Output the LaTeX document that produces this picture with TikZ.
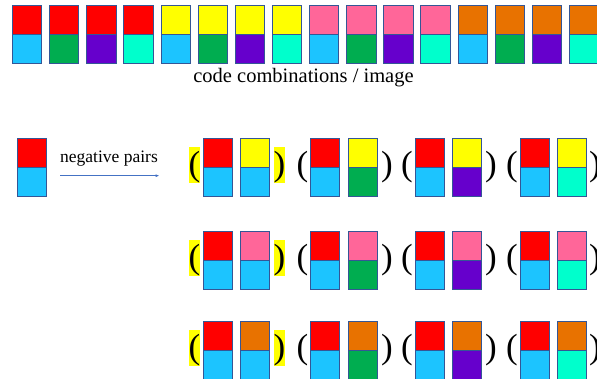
\documentclass[tikz,border=0pt]{standalone}
\usepackage{fontspec}
\setmainfont{Liberation Serif}
\usetikzlibrary{arrows, arrows.meta}

\definecolor{cred}{RGB}{255,0,0}
\definecolor{ccyan}{RGB}{28,196,255}
\definecolor{cgreen}{RGB}{0,173,80}
\definecolor{cpurple}{RGB}{102,0,204}
\definecolor{caqua}{RGB}{0,255,204}
\definecolor{cyellow}{RGB}{255,255,0}
\definecolor{cpink}{RGB}{255,102,153}
\definecolor{corange}{RGB}{232,114,0}
\definecolor{cedge}{RGB}{52,86,150}
\definecolor{carrow}{RGB}{68,114,196}

% one code block: x, top y, top colour, bottom colour
\newcommand{\cblock}[4]{%
  \fill[#3] (#1,#2) rectangle ++(29.3,-29);
  \fill[#4] (#1,#2-29) rectangle ++(29.3,-29);
  \draw[blockedge] (#1,#2) rectangle ++(29.3,-58);
  \draw[blockedge] (#1,#2-29) -- ++(29.3,0);}

\begin{document}
\begin{tikzpicture}[x=1pt,y=1pt,
  blockedge/.style={cedge, line width=0.8pt},
  paren/.style={font=\fontsize{35}{35}\selectfont, inner sep=0pt, anchor=base, text height=29pt, text depth=7pt},
  hl/.style={fill=cyellow}]
\useasboundingbox (0,0) rectangle (597,379);
%\draw[step=10,gray,very thin] (0,0) grid (597,379); %background grid

%all code combinations
\cblock{12.3}{373.3}{cred}{ccyan}
\cblock{49.4}{373.3}{cred}{cgreen}
\cblock{86.6}{373.3}{cred}{cpurple}
\cblock{123.7}{373.3}{cred}{caqua}
\cblock{160.9}{373.3}{cyellow}{ccyan}
\cblock{198.0}{373.3}{cyellow}{cgreen}
\cblock{235.1}{373.3}{cyellow}{cpurple}
\cblock{272.3}{373.3}{cyellow}{caqua}
\cblock{309.4}{373.3}{cpink}{ccyan}
\cblock{346.6}{373.3}{cpink}{cgreen}
\cblock{383.7}{373.3}{cpink}{cpurple}
\cblock{420.8}{373.3}{cpink}{caqua}
\cblock{458.0}{373.3}{corange}{ccyan}
\cblock{495.1}{373.3}{corange}{cgreen}
\cblock{532.3}{373.3}{corange}{cpurple}
\cblock{569.4}{373.3}{corange}{caqua}
\node[anchor=base, font=\fontsize{20.5}{24}\selectfont] (allcodes) at (303.5,296.3) {code combinations / image};

%anchor code and arrow
\cblock{17.3}{240.7}{cred}{ccyan}
\node[anchor=base, font=\fontsize{17.5}{21}\selectfont] (negpairs) at (109,216.3) {negative pairs};
\coordinate (arrowstart) at (60,203.3);
\coordinate (arrowend) at (159.5,203.3);
\draw[carrow, line width=0.8pt, -{Latex[length=4pt,width=3pt]}] (arrowstart) -- (arrowend);

%row 1 (yellow)
\node[paren,hl] (ra1) at (194.5,203) {(}; \node[paren,hl] (rb1) at (279.5,203) {)};
\cblock{203}{241}{cred}{ccyan}   \cblock{240.5}{241}{cyellow}{ccyan}
\node[paren] (ra2) at (302.5,203) {(}; \node[paren] (rb2) at (387,203) {)};
\cblock{310.5}{241}{cred}{ccyan} \cblock{348}{241}{cyellow}{cgreen}
\node[paren] (ra3) at (407,203) {(}; \node[paren] (rb3) at (491,203) {)};
\cblock{415}{241}{cred}{ccyan}   \cblock{452.5}{241}{cyellow}{cpurple}
\node[paren] (ra4) at (512,203) {(}; \node[paren] (rb4) at (595,203) {)};
\cblock{520}{241}{cred}{ccyan}   \cblock{557.5}{241}{cyellow}{caqua}

%row 2 (pink)
\node[paren,hl] (sa1) at (194.5,110) {(}; \node[paren,hl] (sb1) at (279.5,110) {)};
\cblock{203}{148}{cred}{ccyan}   \cblock{240.5}{148}{cpink}{ccyan}
\node[paren] (sa2) at (302.5,110) {(}; \node[paren] (sb2) at (387,110) {)};
\cblock{310.5}{148}{cred}{ccyan} \cblock{348}{148}{cpink}{cgreen}
\node[paren] (sa3) at (407,110) {(}; \node[paren] (sb3) at (491,110) {)};
\cblock{415}{148}{cred}{ccyan}   \cblock{452.5}{148}{cpink}{cpurple}
\node[paren] (sa4) at (512,110) {(}; \node[paren] (sb4) at (595,110) {)};
\cblock{520}{148}{cred}{ccyan}   \cblock{557.5}{148}{cpink}{caqua}

%row 3 (orange)
\node[paren,hl] (ta1) at (194.5,20) {(}; \node[paren,hl] (tb1) at (279.5,20) {)};
\cblock{203}{58}{cred}{ccyan}   \cblock{240.5}{58}{corange}{ccyan}
\node[paren] (ta2) at (302.5,20) {(}; \node[paren] (tb2) at (387,20) {)};
\cblock{310.5}{58}{cred}{ccyan} \cblock{348}{58}{corange}{cgreen}
\node[paren] (ta3) at (407,20) {(}; \node[paren] (tb3) at (491,20) {)};
\cblock{415}{58}{cred}{ccyan}   \cblock{452.5}{58}{corange}{cpurple}
\node[paren] (ta4) at (512,20) {(}; \node[paren] (tb4) at (595,20) {)};
\cblock{520}{58}{cred}{ccyan}   \cblock{557.5}{58}{corange}{caqua}
\end{tikzpicture}
\end{document}
